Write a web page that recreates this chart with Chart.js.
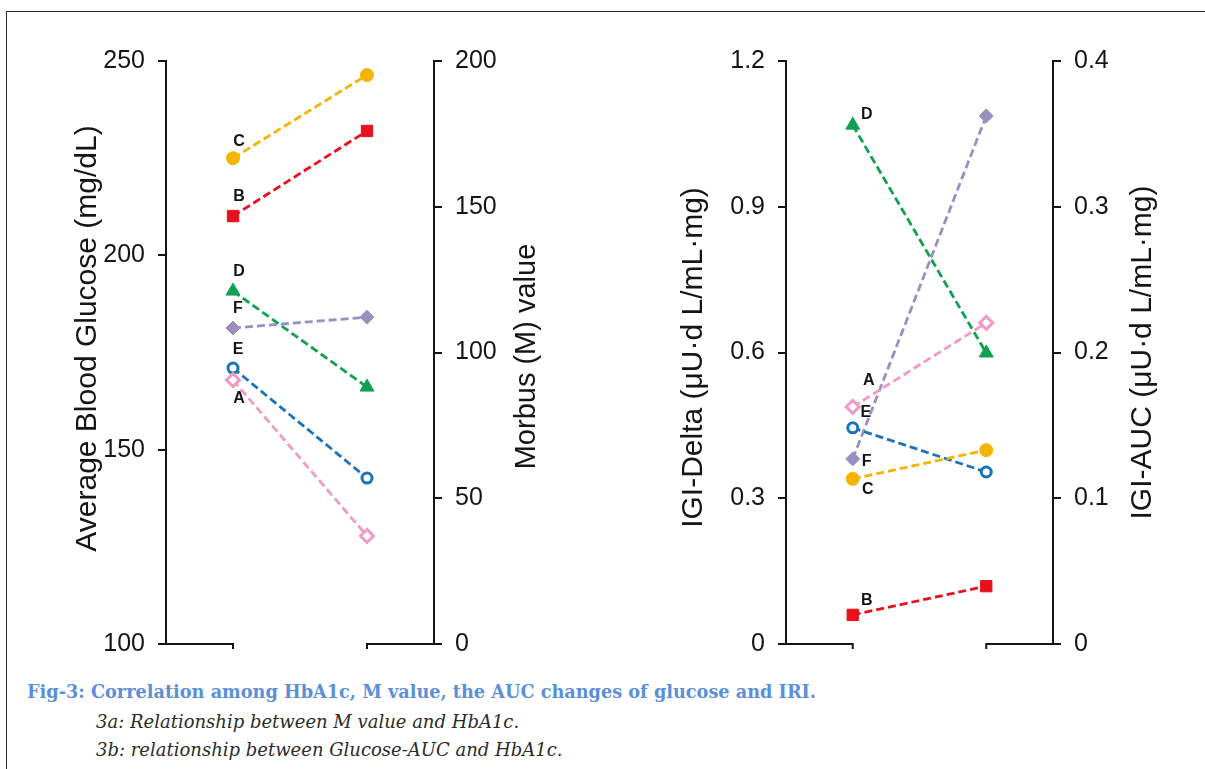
<!DOCTYPE html>
<html>
<head>
<meta charset="utf-8">
<script src="https://cdn.jsdelivr.net/npm/chart.js@4.4.1/dist/chart.umd.min.js"></script>
<style>
  html, body { margin: 0; padding: 0; background: #fff; }
  body { width: 1205px; height: 769px; position: relative; overflow: hidden; }
  .frame { position: absolute; left: 6px; top: 11px; width: 1300px; height: 900px; border: 1.5px solid #2a2a2a; }
  .panel { position: absolute; top: 0; height: 680px; }
  #leftPanel { left: 0; width: 600px; }
  #rightPanel { left: 600px; width: 605px; }
  .caption { position: absolute; left: 27px; top: 681px; font-family: "DejaVu Serif", serif; font-weight: bold; font-size: 17.7px; color: #5b8fd9; white-space: nowrap; }
  .sub { position: absolute; left: 96px; font-family: "DejaVu Serif", serif; font-style: italic; font-size: 18px; color: #2b2b2b; white-space: nowrap; }
</style>
</head>
<body>
<div class="frame"></div>
<div class="panel" id="leftPanel"><canvas id="chartA"></canvas></div>
<div class="panel" id="rightPanel"><canvas id="chartB"></canvas></div>
<div class="caption">Fig-3: Correlation among HbA1c, M value, the AUC changes of glucose and IRI.</div>
<div class="sub" style="top:711px">3a: Relationship between M value and HbA1c.</div>
<div class="sub" style="top:739px">3b: relationship between Glucose-AUC and HbA1c.</div>
<script>
const subjects = ['A', 'B', 'C', 'D', 'E', 'F'];
const columns = ['1', '2'];

// fig 3a, read on the left axis (mg/dL)
const glucoseFirst = [167.9, 210.1, 225.0, 190.8, 171.0, 181.3];
const glucoseSecond = [127.8, 232.0, 246.4, 166.1, 142.7, 184.1];

// fig 3b, read on the left axis (IGI-Delta)
const igiFirst = [0.488, 0.060, 0.340, 1.068, 0.445, 0.381];
const igiSecond = [0.661, 0.119, 0.399, 0.599, 0.354, 1.087];

const glucoseTicks = [100, 150, 200, 250];
const mValueTicks = [0, 50, 100, 150, 200];
const igiDeltaTicks = [0, 0.3, 0.6, 0.9, 1.2];
const igiAucTicks = [0, 0.1, 0.2, 0.3, 0.4];

const subjectStyle = {
    A: { color: '#f09ac6', shape: 'rectRot', radius: 6.5, hollow: true },
    B: { color: '#e8101c', shape: 'rect', radius: 8, hollow: false },
    C: { color: '#f4b400', shape: 'circle', radius: 6.5, hollow: false },
    D: { color: '#10a052', shape: 'triangle', radius: 8, hollow: false },
    E: { color: '#1a72b8', shape: 'circle', radius: 5, hollow: true },
    F: { color: '#9c8ec0', shape: 'rectRot', radius: 7, hollow: false },
};

const axisFont = '"Liberation Sans", Arial, sans-serif';
const inkColor = '#151515';

const sideTitles = {
    id: 'sideTitles',
    afterDraw(chart, args, opts) {
        const ctx = chart.ctx;
        for (const t of opts.items) {
            const scale = chart.scales[t.axis];
            const x = scale.position === 'left' ? scale.left + t.offset : scale.right - t.offset;
            const y = (scale.top + scale.bottom) / 2 + t.shift;
            ctx.save();
            ctx.translate(x, y);
            ctx.rotate(-Math.PI / 2);
            ctx.font = `${t.size}px ${axisFont}`;
            ctx.fillStyle = inkColor;
            ctx.textAlign = 'center';
            ctx.textBaseline = 'middle';
            ctx.fillText(t.text, 0, 0);
            ctx.restore();
        }
    }
};

const pointLetters = {
    id: 'pointLetters',
    afterDatasetsDraw(chart, args, opts) {
        const ctx = chart.ctx;
        ctx.save();
        ctx.font = `bold 16px ${axisFont}`;
        ctx.fillStyle = inkColor;
        ctx.textAlign = 'center';
        ctx.textBaseline = 'middle';
        chart.data.datasets.forEach((ds, i) => {
            const pt = chart.getDatasetMeta(i).data[0];
            const [dx, dy] = opts.offsets[ds.label];
            ctx.fillText(ds.label, pt.x + dx, pt.y + dy);
        });
        ctx.restore();
    }
};

const brokenBaseline = {
    id: 'brokenBaseline',
    afterDraw(chart) {
        const { ctx, chartArea } = chart;
        const x = chart.scales.x;
        const first = x.getPixelForValue(0);
        const second = x.getPixelForValue(1);
        const y = chartArea.bottom;
        ctx.save();
        ctx.strokeStyle = inkColor;
        ctx.lineWidth = 2;
        ctx.beginPath();
        ctx.moveTo(chartArea.left, y);
        ctx.lineTo(first, y);
        ctx.lineTo(first, y + 5);
        ctx.moveTo(second, y + 5);
        ctx.lineTo(second, y);
        ctx.lineTo(chartArea.right, y);
        ctx.stroke();
        ctx.restore();
    }
};

function makeDatasets(firstValues, secondValues) {
    return subjects.map((name, i) => {
        const s = subjectStyle[name];
        return {
            label: name,
            data: [firstValues[i], secondValues[i]],
            yAxisID: 'yLeft',
            borderColor: s.color,
            borderWidth: 2.8,
            borderDash: [8, 4],
            pointStyle: s.shape,
            pointRadius: s.radius,
            pointBackgroundColor: s.hollow ? '#fff' : s.color,
            pointBorderColor: s.color,
            pointBorderWidth: s.hollow ? 3 : 1,
            tension: 0,
        };
    });
}

function yAxis(position, ticks, boxWidth) {
    return {
        type: 'linear',
        position,
        min: ticks[0],
        max: ticks[ticks.length - 1],
        afterBuildTicks: (scale) => { scale.ticks = ticks.map((v) => ({ value: v })); },
        afterFit: (scale) => { scale.width = boxWidth; },
        border: { display: true, color: inkColor, width: 2 },
        grid: { display: true, drawOnChartArea: false, drawTicks: true, tickLength: 8, color: inkColor, lineWidth: 2 },
        ticks: {
            color: inkColor,
            padding: 13,
            font: { family: axisFont, size: 25 },
            callback: (v) => String(v),
        },
    };
}

function drawPanel(canvasId, firstValues, secondValues, leftTicks, rightTicks, leftWidth, rightWidth, titles, offsets) {
    new Chart(document.getElementById(canvasId), {
        type: 'line',
        data: { labels: columns, datasets: makeDatasets(firstValues, secondValues) },
        options: {
            responsive: true,
            maintainAspectRatio: false,
            animation: false,
            events: [],
            layout: { padding: { top: 61, bottom: 36, left: 0, right: 0 } },
            plugins: {
                legend: { display: false },
                tooltip: { enabled: false },
                sideTitles: { items: titles },
                pointLetters: { offsets },
            },
            scales: {
                x: { type: 'category', offset: true, display: false },
                yLeft: yAxis('left', leftTicks, leftWidth),
                yRight: yAxis('right', rightTicks, rightWidth),
            },
        },
        plugins: [sideTitles, pointLetters, brokenBaseline],
    });
}

drawPanel('chartA', glucoseFirst, glucoseSecond, glucoseTicks, mValueTicks, 166, 166, [
    { axis: 'yLeft', text: 'Average Blood Glucose (mg/dL)', offset: 88, shift: -14, size: 30 },
    { axis: 'yRight', text: 'Morbus (M) value', offset: 73, shift: 4, size: 29 },
], {
    A: [6, 18], B: [6, -19], C: [6, -17], D: [6, -19], E: [5, -18], F: [5, -19],
});

drawPanel('chartB', igiFirst, igiSecond, igiDeltaTicks, igiAucTicks, 186, 152, [
    { axis: 'yLeft', text: 'IGI-Delta (μU·d L/mL·mg)', offset: 94, shift: 5, size: 30 },
    { axis: 'yRight', text: 'IGI-AUC (μU·d L/mL·mg)', offset: 62, shift: 0, size: 30 },
], {
    A: [16, -26], B: [14, -14], C: [15, 11], D: [14, -11], E: [13, -15], F: [14, 3],
});
</script>
</body>
</html>
